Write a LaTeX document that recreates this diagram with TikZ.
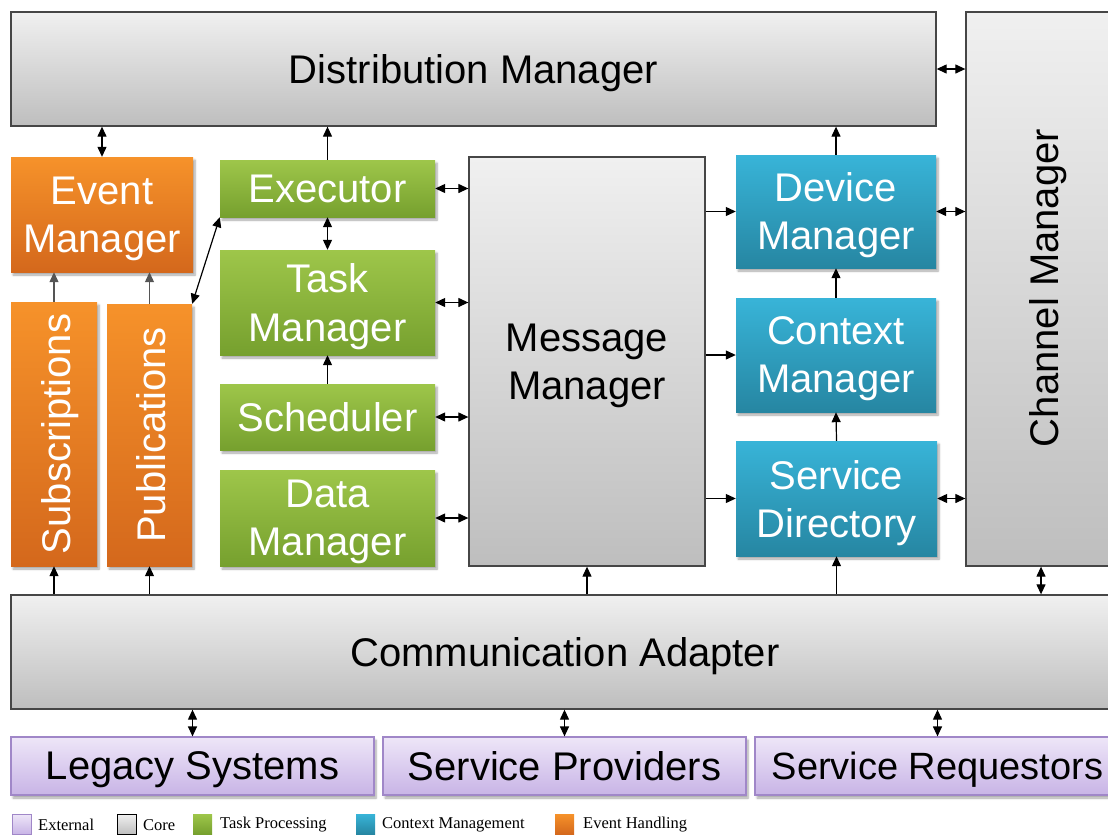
\documentclass[tikz,border=0pt]{standalone}
\usepackage{fontspec}
\setmainfont{Liberation Sans}
\newfontfamily\legfont{Liberation Serif}
\usetikzlibrary{arrows.meta,shadows.blur}

\definecolor{grayTop}{RGB}{240,240,240}
\definecolor{grayBot}{RGB}{190,190,190}
\definecolor{grayEdge}{RGB}{70,70,70}
\definecolor{purTop}{RGB}{238,230,248}
\definecolor{purBot}{RGB}{200,180,230}
\definecolor{purEdge}{RGB}{160,135,200}
\definecolor{grnTop}{RGB}{158,198,74}
\definecolor{grnBot}{RGB}{118,160,46}
\definecolor{bluTop}{RGB}{56,180,216}
\definecolor{bluBot}{RGB}{38,134,162}
\definecolor{orgTop}{RGB}{246,146,42}
\definecolor{orgBot}{RGB}{212,104,28}
\definecolor{arrowGray}{RGB}{85,85,85}

\tikzset{
  box/.style={rectangle, inner sep=0pt, align=center, text depth=0pt,
    font=\fontsize{40}{48}\selectfont},
  softshadow/.style={blur shadow={shadow xshift=2pt, shadow yshift=-3pt,
    shadow blur steps=6, shadow opacity=35}},
  core/.style={box, top color=grayTop, bottom color=grayBot,
    draw=grayEdge, line width=1.3pt, text=black},
  external/.style={box, top color=purTop, bottom color=purBot,
    draw=purEdge, line width=1.2pt, text=black, softshadow},
  task/.style={box, top color=grnTop, bottom color=grnBot, text=white, softshadow},
  context/.style={box, top color=bluTop, bottom color=bluBot, text=white, softshadow},
  event/.style={box, top color=orgTop, bottom color=orgBot, text=white, softshadow},
  sidetext/.style={rotate=90, inner sep=0pt, text depth=0pt, font=\fontsize{40}{48}\selectfont},
  uni/.style={-{Triangle[length=10pt,width=9pt]}, line width=1.2pt, black},
  bi/.style={{Triangle[length=10pt,width=9pt]}-{Triangle[length=10pt,width=9pt]},
    line width=1.2pt, black},
  legkey/.style={rectangle, minimum width=19pt, minimum height=20pt, inner sep=0pt},
  legtext/.style={anchor=west, inner sep=0pt, font=\legfont\fontsize{16.5}{18}\selectfont}
}

\begin{document}
\begin{tikzpicture}[x=1pt,y=-1pt]
\useasboundingbox (0,0) rectangle (1108,836);
\clip (0,0) rectangle (1108,836);

% core blocks
\node[core, minimum width=925pt, minimum height=114pt] (dm) at (473.5,69) {Distribution Manager};
\node[core, minimum width=159pt, minimum height=554pt] (cm) at (1045.5,289) {};
\node[sidetext] (cmt) at (1044,288) {Channel Manager};
\node[core, minimum width=236pt, minimum height=409pt] (mm) at (587,361.5) {Message\\Manager};
\node[core, minimum width=1114pt, minimum height=114pt] (ca) at (568,652) {};
\node[box] (cat) at (565,652) {Communication Adapter};

% event handling
\node[event, minimum width=182pt, minimum height=115pt] (em) at (102,214.5) {Event\\Manager};
\node[event, minimum width=86pt, minimum height=264pt] (sub) at (54,434) {};
\node[sidetext, text=white] (subt) at (56,434) {Subscriptions};
\node[event, minimum width=85pt, minimum height=262pt] (pub) at (149.5,435) {};
\node[sidetext, text=white] (pubt) at (151,435) {Publications};

% task processing
\node[task, minimum width=215pt, minimum height=57pt] (ex) at (327.5,188.5) {Executor};
\node[task, minimum width=215pt, minimum height=105pt] (tm) at (327.5,302.5) {Task\\Manager};
\node[task, minimum width=215pt, minimum height=66pt] (sc) at (327.5,417) {Scheduler};
\node[task, minimum width=215pt, minimum height=96pt] (da) at (327.5,518) {Data\\Manager};

% context management
\node[context, minimum width=200pt, minimum height=113pt] (dv) at (836,211.5) {Device\\Manager};
\node[context, minimum width=200pt, minimum height=114pt] (cx) at (836,355) {Context\\Manager};
\node[context, minimum width=201pt, minimum height=115pt] (sd) at (836.5,498.5) {Service\\Directory};

% external systems
\node[external, minimum width=363pt, minimum height=58pt] (ls) at (192.5,766) {Legacy Systems};
\node[external, minimum width=363pt, minimum height=58pt] (sp) at (564.5,766) {Service Providers};
\node[external, minimum width=365pt, minimum height=58pt,
      font=\fontsize{38}{46}\selectfont] (sr) at (937.5,766) {Service Requestors};

% connectors around the distribution manager
\draw[bi] (em.north) -- (em.north |- dm.south);
\draw[uni] (ex.north) -- (ex.north |- dm.south);
\draw[uni] (dv.north) -- (dv.north |- dm.south);
\draw[bi] (dm.east) -- (dm.east -| cm.west);

% channel manager links
\draw[bi] (dv.east) -- (dv.east -| cm.west);
\draw[bi] (sd.east) -- (sd.east -| cm.west);
\coordinate (cmfoot) at ([xshift=-4.5pt]cm.south);
\draw[bi] (cmfoot) -- (cmfoot |- ca.north);

% task processing to message manager
\draw[bi] (ex.east) -- (ex.east -| mm.west);
\draw[bi] (tm.east) -- (tm.east -| mm.west);
\draw[bi] (sc.east) -- (sc.east -| mm.west);
\draw[bi] (da.east) -- (da.east -| mm.west);
\draw[bi] (ex.south) -- (tm.north);
\draw[uni] (sc.north) -- (tm.south);
\draw[bi] (pub.north east) -- (ex.south west);

% event handling
\draw[uni, arrowGray] (sub.north) -- (sub.north |- em.south);
\draw[uni, arrowGray] (pub.north) -- (pub.north |- em.south);

% communication adapter upward
\draw[uni] (sub.south |- ca.north) -- (sub.south);
\draw[uni] (pub.south |- ca.north) -- (pub.south);
\draw[uni] (mm.south |- ca.north) -- (mm.south);
\draw[uni] (sd.south |- ca.north) -- (sd.south);

% message manager to context management
\draw[uni] (mm.east |- dv.west) -- (dv.west);
\draw[uni] (mm.east |- cx.west) -- (cx.west);
\draw[uni] (mm.east |- sd.west) -- (sd.west);
\draw[uni] (cx.north) -- (dv.south);
\draw[uni] (sd.north) -- (cx.south);

% communication adapter to external systems
\draw[bi] (ls.north) -- (ls.north |- ca.south);
\draw[bi] (sp.north) -- (sp.north |- ca.south);
\draw[bi] (sr.north) -- (sr.north |- ca.south);

% legend
\node[legkey, top color=purTop, bottom color=purBot, draw=purEdge, line width=1pt] (k1) at (21.5,824) {};
\node[legtext] (t1) at (38,825) {External};
\node[legkey, top color=grayTop, bottom color=grayBot, draw=black, line width=1pt] (k2) at (126.5,824) {};
\node[legtext] (t2) at (143,825) {Core};
\node[legkey, top color=grnTop, bottom color=grnBot] (k3) at (202.5,824) {};
\node[legtext] (t3) at (220,825) {Task Processing};
\node[legkey, top color=bluTop, bottom color=bluBot] (k4) at (365.5,824) {};
\node[legtext] (t4) at (382,825) {Context Management};
\node[legkey, top color=orgTop, bottom color=orgBot] (k5) at (564.5,824) {};
\node[legtext] (t5) at (583,825) {Event Handling};
\end{tikzpicture}
\end{document}
